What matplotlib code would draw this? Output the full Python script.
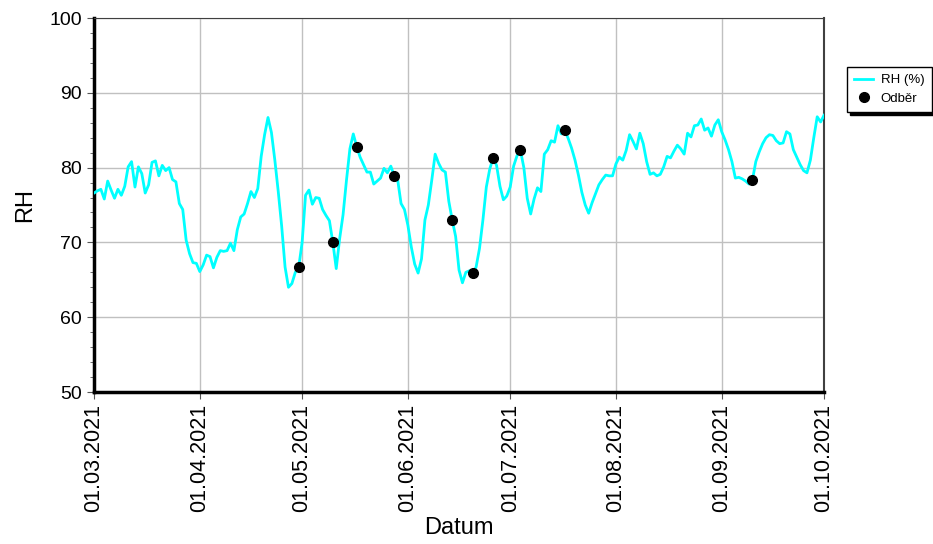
import matplotlib.pyplot as plt
import matplotlib.dates as mdates
from matplotlib.ticker import MultipleLocator
import pandas as pd

plt.rcParams['font.family'] = ['Liberation Sans', 'DejaVu Sans']

# daily RH values, 01.03.2021 .. 01.10.2021
rh = [
    76.6, 76.9, 77.1, 75.8, 78.2, 77.0, 75.9, 77.1, 76.3, 77.5,
    80.1, 80.8, 77.4, 80.1, 79.2, 76.6, 77.7, 80.7, 80.9, 78.9,
    80.3, 79.6, 80.0, 78.4, 78.1, 75.2, 74.4, 70.3, 68.5, 67.3,
    67.2, 66.1, 67.0, 68.3, 68.1, 66.6, 68.0, 68.9, 68.8, 68.9,
    69.9, 68.9, 71.7, 73.4, 73.8, 75.2, 76.8, 76.0, 77.2, 81.5,
    84.4, 86.7, 84.7, 81.0, 76.8, 72.2, 66.7, 64.0, 64.5, 66.0,
    66.7, 70.0, 76.3, 77.0, 75.1, 76.0, 75.9, 74.4, 73.6, 72.9,
    70.0, 66.5, 70.5, 73.7, 78.3, 82.5, 84.5, 82.8, 81.4, 80.4,
    79.4, 79.4, 77.8, 78.2, 78.6, 79.9, 79.3, 80.2, 78.9, 78.4,
    75.2, 74.4, 72.3, 69.4, 67.1, 65.9, 67.8, 73.0, 75.0, 78.3,
    81.8, 80.6, 79.7, 79.4, 75.5, 73.0, 70.8, 66.3, 64.6, 66.0,
    66.2, 65.9, 66.7, 69.2, 73.0, 77.4, 79.8, 81.3, 80.3, 77.5,
    75.7, 76.2, 77.4, 80.2, 81.6, 82.3, 80.0, 75.9, 73.8, 75.8,
    77.3, 76.8, 81.8, 82.4, 83.6, 83.4, 85.6, 84.5, 85.0, 83.9,
    82.6, 81.0, 79.0, 76.7, 75.0, 73.9, 75.3, 76.5, 77.7, 78.4,
    79.0, 78.9, 78.9, 80.5, 81.4, 81.0, 82.3, 84.4, 83.5, 82.5,
    84.6, 83.2, 80.8, 79.1, 79.3, 78.9, 79.1, 80.1, 81.5, 81.3,
    82.2, 83.0, 82.5, 81.8, 84.6, 84.1, 85.6, 85.7, 86.5, 85.0,
    85.3, 84.2, 85.7, 86.4, 84.8, 83.7, 82.4, 80.8, 78.6, 78.7,
    78.5, 78.2, 77.8, 78.3, 80.8, 82.1, 83.2, 84.0, 84.4, 84.3,
    83.6, 83.2, 83.3, 84.8, 84.5, 82.4, 81.4, 80.4, 79.6, 79.3,
    81.0, 84.0, 86.8, 86.1, 87.0,
]
dates = pd.date_range('2021-03-01', '2021-10-01', freq='D')

odber_dates = pd.to_datetime(['2021-04-30', '2021-05-10', '2021-05-17', '2021-05-28',
                              '2021-06-14', '2021-06-20', '2021-06-26', '2021-07-04',
                              '2021-07-17', '2021-09-10'])
odber_rh = [66.7, 70.0, 82.8, 78.9, 73.0, 65.9, 81.3, 82.3, 85.0, 78.3]

month_ticks = pd.date_range('2021-03-01', '2021-10-01', freq='MS')

fig = plt.figure(figsize=(9.33, 5.44), dpi=100)
ax = fig.add_axes([0.1008, 0.2794, 0.7824, 0.6875])

ax.plot(dates, rh, color='#00ffff', lw=2, label='RH (%)', zorder=3)
ax.plot(odber_dates, odber_rh, 'o', color='black', ms=7, label='Odběr', zorder=4)

ax.set_xlim(dates[0], dates[-1])
ax.set_ylim(50, 100)
ax.set_xticks(month_ticks)
ax.xaxis.set_major_formatter(mdates.DateFormatter('%d.%m.%Y'))
ax.yaxis.set_major_locator(MultipleLocator(10))
ax.yaxis.set_minor_locator(MultipleLocator(2))
plt.setp(ax.get_xticklabels(), rotation=90)
ax.tick_params(axis='y', labelsize=14, colors='black')
ax.tick_params(axis='x', labelsize=15.5, colors='black')
ax.tick_params(axis='y', which='minor', length=3, color='#555555')
ax.tick_params(axis='both', which='major', length=5, color='#555555')

ax.grid(True, which='major', color='#c0c0c0', lw=1)
ax.set_axisbelow(True)
ax.spines['left'].set_linewidth(2.5)
ax.spines['bottom'].set_linewidth(2.5)
ax.spines['top'].set_color('#404040')
ax.spines['right'].set_color('#404040')
ax.spines['right'].set_linewidth(1.5)

ax.set_ylabel('RH', fontsize=17, labelpad=10)
ax.set_xlabel('Datum', fontsize=17, labelpad=4)

leg = fig.legend(loc='upper left', bbox_to_anchor=(0.908, 0.877), fontsize=9.5,
                 fancybox=False, shadow={'color': 'black', 'alpha': 1}, edgecolor='black',
                 framealpha=1, handlelength=1.4, borderpad=0.55, labelspacing=0.45,
                 handletextpad=0.6, borderaxespad=0)
leg.get_frame().set_linewidth(1)

fig.savefig('out.png', dpi=100)
